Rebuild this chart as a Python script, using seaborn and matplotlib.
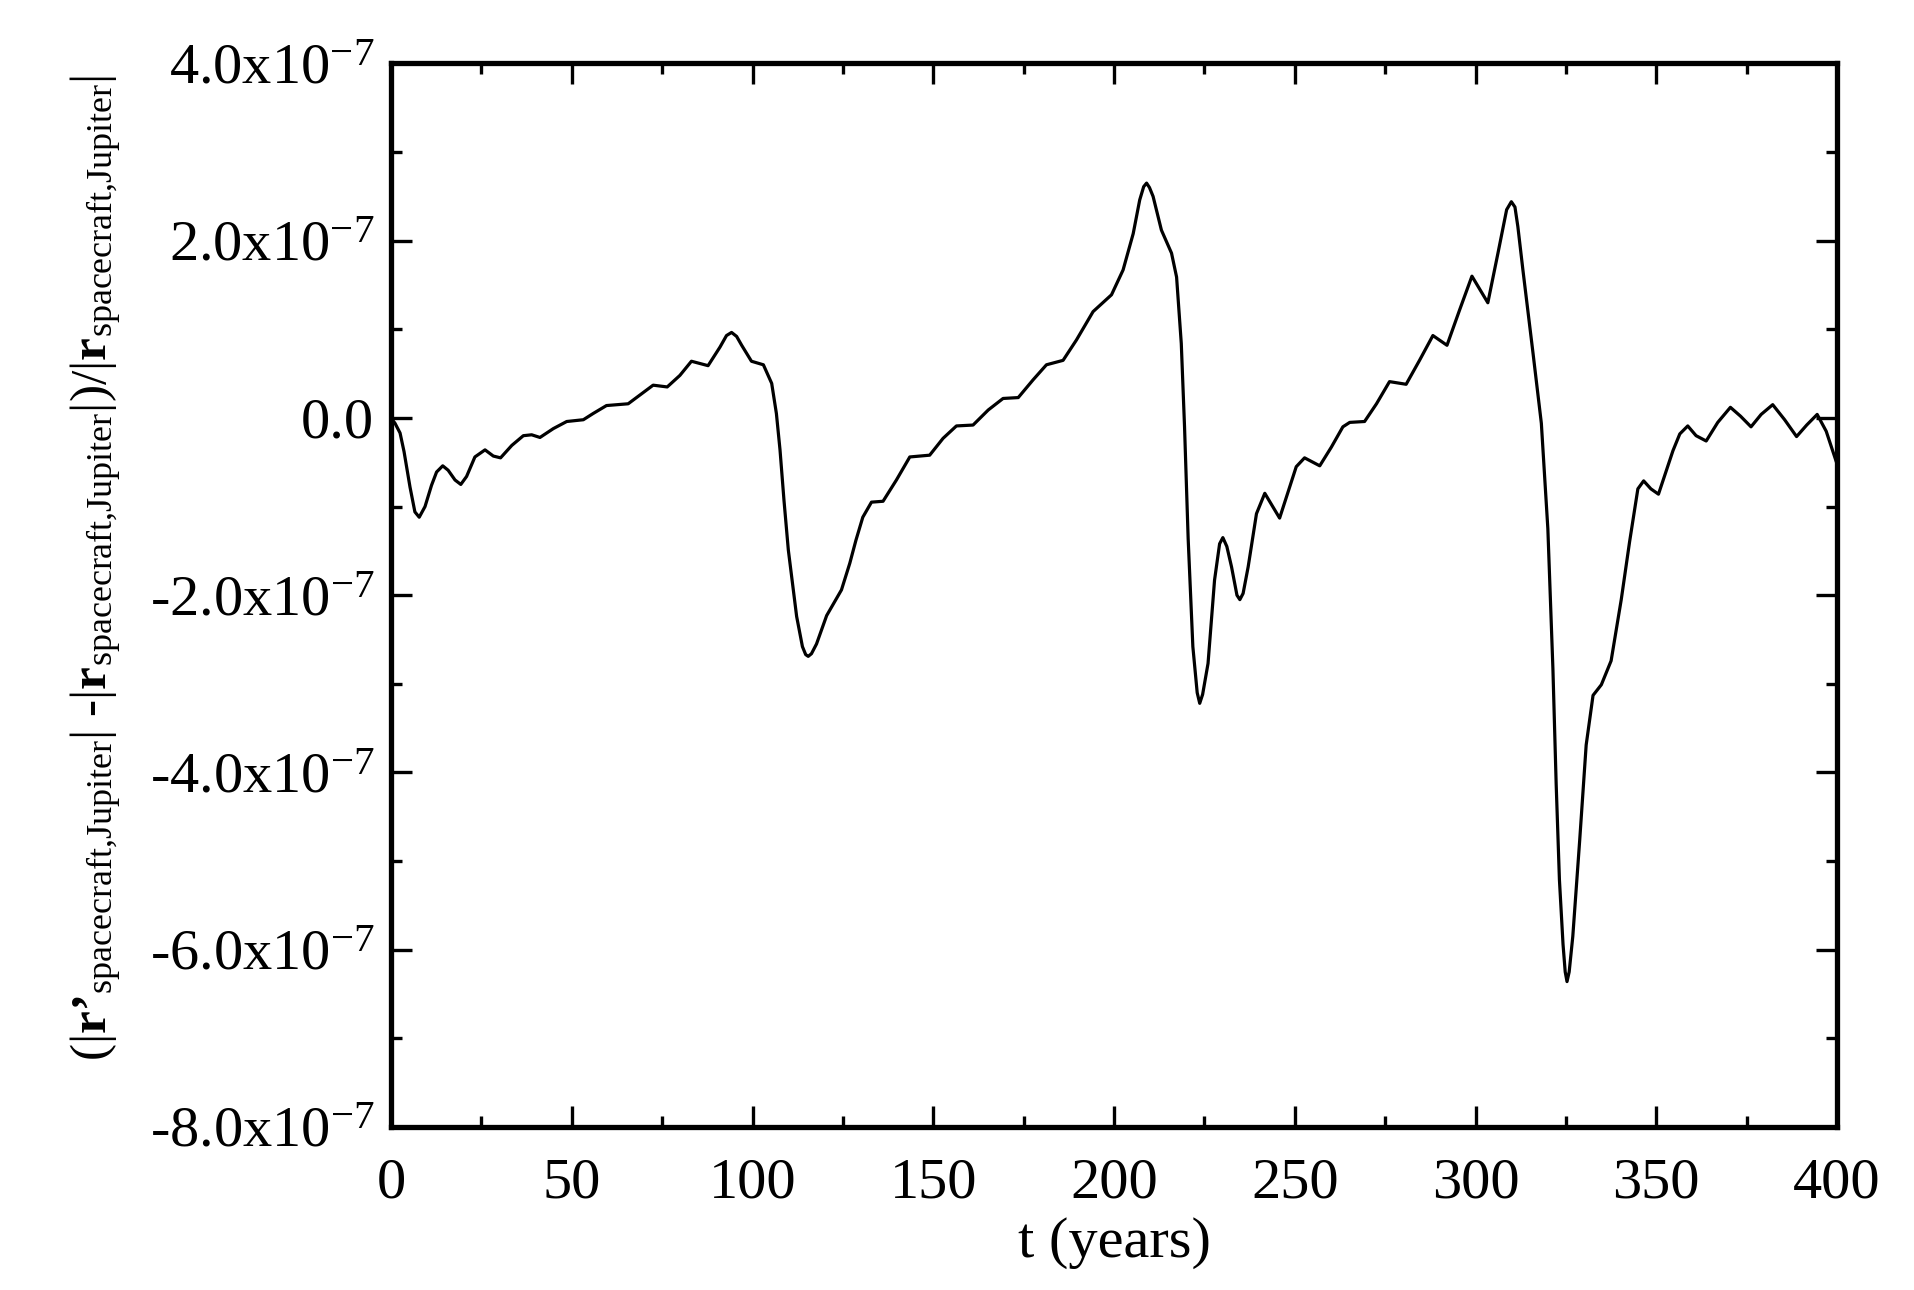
import matplotlib
matplotlib.use("Agg")
import matplotlib.pyplot as plt
import seaborn as sns
from matplotlib.ticker import MultipleLocator, FuncFormatter

# t in years, relative difference in units of 1e-7
t_years = [0, 1.1, 2.5, 3.6, 5.25, 6.6, 7.8, 9.4, 11.2, 12.6, 14.3, 15.8, 17.7, 19.3,
           20.9, 23.2, 26.0, 28.3, 30.3, 33.4, 36.6, 38.9, 41.2, 44.9, 48.6, 53.2,
           55.9, 59.6, 65.6, 68.9, 72.5, 76.4, 79.9, 83.1, 87.7, 91.0, 92.8, 94.2, 95.6, 97.0,
           99.7, 103.0, 105.3, 106.6, 107.6, 108.7, 109.9, 112.2, 113.8, 114.7, 115.4, 116.3,
           117.7, 120.5, 124.6, 126.9, 128.6, 130.5, 132.9, 136.1, 139.8, 143.5,
           149.0, 152.7, 156.4, 161.0, 165.2, 169.3, 173.5, 177.6, 181.3, 185.9,
           189.6, 194.2, 199.3, 202.5, 205.3, 207.1, 208.2, 209.0, 209.8, 210.8, 213.1, 215.9,
           217.3, 218.6, 219.5, 220.5, 221.8, 223.0, 223.7, 224.5, 226.0, 227.8, 229.2, 230.1,
           231.2, 232.5, 234.0, 234.8, 235.7, 237.1, 239.4, 241.7, 245.8, 250.4, 252.7, 256.9,
           260.1, 263.3, 265.2, 269.3, 272.6, 276.2, 280.8, 284.5, 288.2, 292.1, 295.6, 299.0,
           303.4, 306.2, 308.6, 309.9, 310.9, 311.7, 313.1, 315.9, 318.2, 320.0, 321.4, 322.3,
           323.2, 324.2, 324.8, 325.3, 325.9, 326.9, 328.8, 330.6, 332.5, 334.8, 337.5, 340.3,
           342.6, 344.9, 346.5, 348.5, 350.6, 354.6, 356.5, 358.7, 361.0, 363.8,
           367.0, 370.5, 373.3, 376.2, 379.0, 382.2, 385.5, 388.8, 391.6, 394.5,
           397.0, 400.0]
rel_diff = [0.0, -0.06, -0.17, -0.38, -0.78, -1.06, -1.12, -1.0, -0.76, -0.61, -0.54,
            -0.59, -0.70, -0.75, -0.66, -0.44, -0.36, -0.43, -0.45, -0.31, -0.20,
            -0.19, -0.22, -0.12, -0.04, -0.02, 0.05, 0.14, 0.16, 0.26, 0.37, 0.35,
            0.48, 0.64, 0.59, 0.80, 0.93, 0.965, 0.92, 0.82, 0.64, 0.60, 0.39, 0.05, -0.36,
            -0.93, -1.49, -2.24, -2.58, -2.67, -2.69, -2.66, -2.55, -2.23, -1.94, -1.64, -1.38,
            -1.12, -0.95, -0.94, -0.70, -0.44, -0.42, -0.23, -0.09, -0.08, 0.09,
            0.22, 0.23, 0.43, 0.60, 0.65, 0.88, 1.20, 1.39, 1.67, 2.08, 2.46, 2.61, 2.65,
            2.60, 2.50, 2.12, 1.86, 1.59, 0.84, -0.10, -1.36, -2.58, -3.10, -3.22, -3.12, -2.77,
            -1.83, -1.42, -1.35, -1.45, -1.68, -2.00, -2.05, -1.98, -1.68, -1.08, -0.85, -1.13,
            -0.55, -0.45, -0.54, -0.33, -0.10, -0.05, -0.04, 0.16, 0.41, 0.38, 0.65, 0.93, 0.82,
            1.22, 1.60, 1.30, 1.86, 2.35, 2.44, 2.38, 2.16, 1.67, 0.73, -0.06, -1.25, -2.83,
            -4.13, -5.21, -5.94, -6.25, -6.36, -6.25, -5.85, -4.77, -3.69, -3.13, -3.01, -2.74,
            -2.05, -1.40, -0.80, -0.71, -0.80, -0.86, -0.37, -0.18, -0.09, -0.20, -0.26,
            -0.05, 0.12, 0.02, -0.10, 0.04, 0.15, -0.02, -0.21, -0.08, 0.04, -0.15,
            -0.52]

sns.set_theme(style="ticks")
plt.rcParams['font.family'] = ['Liberation Serif', 'DejaVu Serif']
plt.rcParams['mathtext.fontset'] = 'custom'
plt.rcParams['mathtext.rm'] = 'Liberation Serif'
plt.rcParams['mathtext.it'] = 'Liberation Serif:italic'
plt.rcParams['mathtext.bf'] = 'Liberation Serif:bold'
plt.rcParams['text.color'] = 'black'
plt.rcParams['axes.labelcolor'] = 'black'

fig = plt.figure(figsize=(19.14, 12.90), dpi=100)
ax = fig.add_axes([0.2043, 0.1264, 0.7555, 0.8244])

sns.lineplot(x=t_years, y=rel_diff, color='black', linewidth=2.3, ax=ax)

ax.set_xlim(0, 400)
ax.set_ylim(-8, 4)
ax.xaxis.set_major_locator(MultipleLocator(50))
ax.xaxis.set_minor_locator(MultipleLocator(25))
ax.yaxis.set_major_locator(MultipleLocator(2))
ax.yaxis.set_minor_locator(MultipleLocator(1))


def ylab(v, pos):
    if abs(v) < 1e-9:
        return "0.0"
    return f"{v:.1f}x10$^{{\\mathrm{{-7}}}}$"


ax.yaxis.set_major_formatter(FuncFormatter(ylab))

for s in ax.spines.values():
    s.set_linewidth(3.8)
    s.set_color('black')
    s.set_visible(True)
ax.tick_params(which='both', direction='in', top=True, right=True, colors='black', width=2.4)
ax.tick_params(which='major', length=15)
ax.tick_params(which='minor', length=8)
ax.tick_params(axis='x', which='major', labelsize=42, pad=22)
ax.tick_params(axis='y', which='major', labelsize=42, pad=12)

sub = r"\mathrm{spacecraft{,}Jupiter}"
ylabel = (r"$(|\mathbf{r" + "\u2019" + r"}_{" + sub + r"}|$ -$|\mathbf{r}_{" + sub
          + r"}|)/|\mathbf{r}_{" + sub + r"}|$")
ax.set_xlabel("t (years)", fontsize=42, color='black')
ax.xaxis.set_label_coords(0.5, -0.085)
ax.set_ylabel(ylabel, fontsize=37, color='black')
ax.yaxis.set_label_coords(-0.185, 0.526)

plt.savefig('out.png', dpi=100)
